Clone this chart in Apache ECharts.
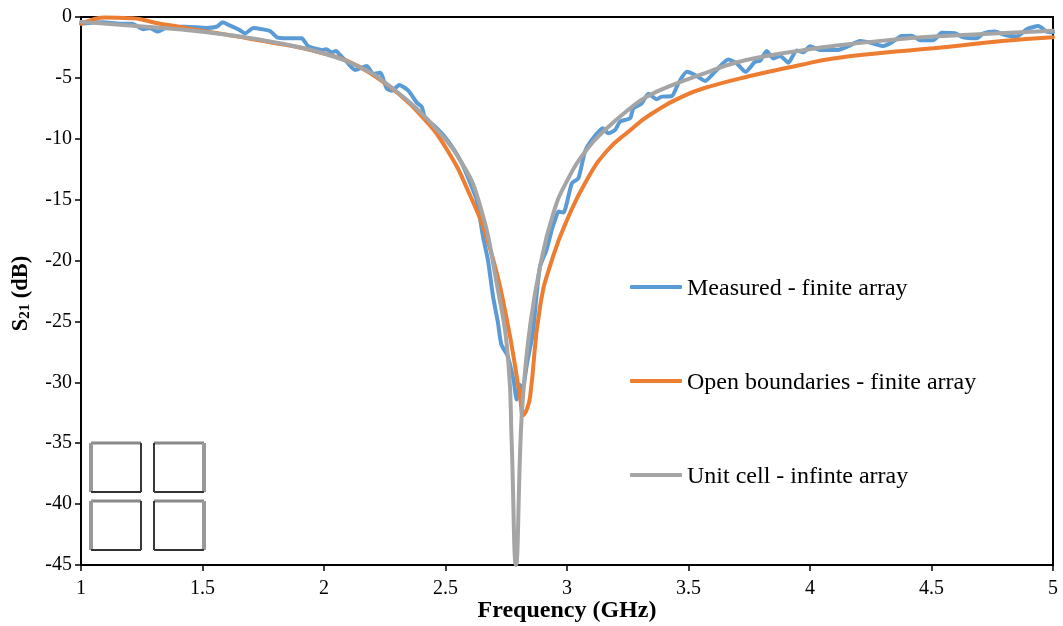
<!DOCTYPE html>
<html><head><meta charset="utf-8">
<style>html,body{margin:0;padding:0;background:#fff}#c{width:1063px;height:626px}</style>
<script src="https://cdn.jsdelivr.net/npm/echarts@6/dist/echarts.min.js"></script>
</head><body><div id="c"></div>
<script>
var measuredF=[1,1.05,1.09,1.16,1.21,1.257,1.284,1.314,1.345,1.38,1.43,1.517,1.558,1.583,1.613,1.647,1.675,1.71,1.745,1.778,1.81,1.85,1.908,1.935,1.997,2.01,2.03,2.05,2.066,2.093,2.128,2.176,2.203,2.231,2.258,2.279,2.31,2.347,2.382,2.402,2.416,2.45,2.491,2.532,2.567,2.594,2.628,2.654,2.675,2.696,2.715,2.73,2.755,2.78,2.793,2.806,2.815,2.835,2.859,2.875,2.889,2.916,2.937,2.951,2.965,2.985,3.02,3.047,3.074,3.102,3.147,3.17,3.198,3.218,3.26,3.273,3.307,3.335,3.369,3.39,3.431,3.458,3.493,3.527,3.568,3.609,3.664,3.698,3.735,3.774,3.794,3.822,3.849,3.877,3.911,3.945,3.973,4,4.04,4.117,4.158,4.206,4.247,4.302,4.343,4.377,4.419,4.453,4.508,4.542,4.597,4.631,4.686,4.714,4.761,4.803,4.851,4.892,4.94,4.974,5];
var measuredDb=[-0.55,-0.45,-0.44,-0.55,-0.55,-1,-0.9,-1.2,-0.93,-0.8,-0.8,-0.9,-0.8,-0.44,-0.7,-1,-1.35,-0.9,-1,-1.15,-1.7,-1.75,-1.75,-2.4,-2.7,-2.65,-2.9,-2.8,-3.12,-3.67,-4.35,-4.02,-4.68,-4.57,-5.86,-6.05,-5.58,-6.05,-7.03,-7.36,-8.3,-8.87,-9.7,-10.8,-12,-13.25,-15,-18,-20,-23,-25,-26.9,-27.8,-29.8,-31.4,-30.2,-30.8,-28.5,-26,-22.8,-20.5,-19.1,-17.5,-16.66,-15.98,-16.06,-13.65,-13.24,-11.05,-10.1,-9.14,-9.55,-9.27,-8.6,-8.3,-7.5,-7.1,-6.3,-6.76,-6.54,-6.5,-5.45,-4.5,-4.76,-5.25,-4.5,-3.5,-3.8,-4.5,-3.67,-3.6,-2.79,-3.4,-3.2,-3.75,-2.76,-2.9,-2.4,-2.7,-2.7,-2.4,-1.97,-2.1,-2.38,-2,-1.56,-1.53,-1.9,-1.9,-1.3,-1.34,-1.67,-1.75,-1.34,-1.2,-1.48,-1.6,-1,-0.74,-1.2,-1.25];
var openF=[1,1.05,1.1,1.2,1.25,1.3,1.4,1.5,1.6,1.7,1.8,1.9,2,2.1,2.2,2.3,2.4,2.5,2.6,2.683,2.75,2.807,2.82,2.835,2.848,2.889,2.942,3.006,3.081,3.164,3.26,3.34,3.479,3.589,3.753,3.96,4.096,4.3,4.508,4.78,5];
var openDb=[-0.55,-0.2,-0.05,-0.1,-0.2,-0.45,-0.8,-1.15,-1.45,-1.8,-2.15,-2.5,-3,-3.65,-4.75,-6.2,-8.1,-10.7,-14.6,-19,-24.6,-31.2,-32.7,-32.2,-31.2,-23.8,-19.7,-16.4,-13.4,-11,-9.3,-8.05,-6.5,-5.7,-4.85,-3.94,-3.4,-2.93,-2.57,-2,-1.67];
var unitF=[1,1.2,1.4,1.6,1.8,2,2.176,2.272,2.38,2.478,2.56,2.635,2.71,2.76,2.772,2.79,2.809,2.82,2.848,2.889,2.944,2.999,3.081,3.164,3.26,3.328,3.451,3.547,3.685,3.822,3.96,4.096,4.3,4.508,4.714,5];
var unitDb=[-0.4,-0.7,-1,-1.45,-2.1,-3,-4.4,-5.7,-7.5,-9.55,-11.74,-15,-21.8,-28.7,-34.7,-45,-34.7,-30.9,-25.4,-20.5,-16.1,-13.5,-10.9,-9.14,-7.5,-6.54,-5.45,-4.76,-3.8,-3.2,-2.76,-2.38,-1.94,-1.6,-1.4,-1.12];
var legendNames=['Measured - finite array','Open boundaries - finite array','Unit cell - infinte array'];
var colors=['#5B9BD5','#ED7D31','#A5A5A5'];
var font='"Liberation Serif","Times New Roman",serif';
function zip(a,b){return a.map(function(v,i){return [v,b[i]];});}
function line(n,i,f,d){return {name:n,type:'line',data:zip(f,d),showSymbol:false,symbol:'none',smooth:i===0?0.2:0.5,lineStyle:{color:colors[i],width:4,cap:'round',join:'round'},itemStyle:{color:colors[i]},z:2+i};}
var cells=[[91,443],[154,443],[91,501],[154,501]],w=50,h=49;
var inset=[];
function seg(x1,y1,x2,y2,c,lw){inset.push({type:'line',shape:{x1:x1,y1:y1,x2:x2,y2:y2},style:{stroke:c,lineWidth:lw},z:10});}
cells.forEach(function(c,i){
 var left=i%2===0,x=c[0],y=c[1];
 seg(x,y,x+w,y,'#8a8a8a',3);
 seg(x,y,x,y+h,left?'#999':'#222',left?4:1.8);
 seg(x+w,y,x+w,y+h,left?'#222':'#999',left?1.8:4);
 seg(x,y+h,x+w,y+h,'#333',2.2);
});
var chart=echarts.init(document.getElementById('c'),null,{renderer:'canvas'});
chart.setOption({
 animation:false,backgroundColor:'#fff',
 textStyle:{fontFamily:font},
 grid:{left:81,right:10,top:17,bottom:61,outerBoundsMode:'none',containLabel:false,show:true,borderColor:'#000',borderWidth:2,backgroundColor:'transparent'},
 xAxis:{type:'value',min:1,max:5,interval:0.5,position:'bottom',name:'Frequency (GHz)',nameLocation:'middle',nameGap:34,nameMoveOverlap:false,
  nameTextStyle:{fontFamily:font,fontSize:24,fontWeight:'bold',color:'#000'},
  axisLine:{onZero:false,lineStyle:{color:'#000',width:2}},axisTick:{length:6,inside:false,lineStyle:{color:'#000',width:1.5}},
  axisLabel:{fontFamily:font,fontSize:20,color:'#000',margin:14,showMaxLabel:true,showMinLabel:true},splitLine:{show:false}},
 yAxis:{type:'value',min:-45,max:0,interval:5,name:'{b|S}{s|21}{b| (dB)}',nameLocation:'middle',nameGap:48,nameRotate:90,
  nameTextStyle:{padding:[0,5,0,0],rich:{b:{fontFamily:font,fontSize:22.5,fontWeight:'bold',color:'#000'},s:{fontFamily:font,fontSize:15,fontWeight:'bold',color:'#000',verticalAlign:'bottom',lineHeight:14,padding:[8,0,0,0]}}},
  axisLine:{onZero:false,lineStyle:{color:'#000',width:2}},axisTick:{length:6,lineStyle:{color:'#000',width:1.5}},
  axisLabel:{fontFamily:font,fontSize:20,color:'#000',margin:9},splitLine:{show:false}},
 legend:{orient:'vertical',left:625,top:268,itemWidth:52,itemHeight:4,itemGap:66,icon:'roundRect',data:legendNames,selectedMode:false,
  textStyle:{fontFamily:font,fontSize:24,color:'#000',lineHeight:28,rich:{a:{fontFamily:font,fontSize:24,color:'#000',lineHeight:28,padding:[4,0,0,0]}}},
  formatter:function(n){return '{a|'+n+'}';}},
 graphic:{elements:inset},
 series:[line(legendNames[0],0,measuredF,measuredDb),line(legendNames[1],1,openF,openDb),line(legendNames[2],2,unitF,unitDb)]
});
</script></body></html>
